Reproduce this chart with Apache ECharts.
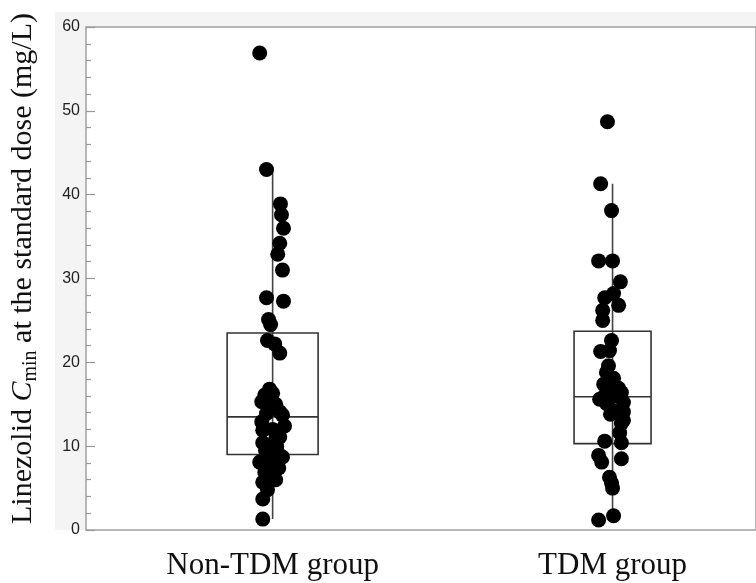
<!doctype html>
<html lang="en">
<head>
    <meta charset="UTF-8">
    <title>Linezolid Cmin</title>
    <style>
        html, body { margin: 0; padding: 0; background: #fff; }
    </style>
</head>
<body>
<div id="myChart" style="width: 756px;height: 583px"></div>
<script src="https://cdn.jsdelivr.net/npm/echarts@6/dist/echarts.min.js"></script>
<script>
    // groups on the x axis (1 and 2)
    var groupNames = ['Non-TDM group', 'TDM group'];
    var groupPos = [1, 2];

    // box stats: [low whisker, Q1, median, Q3, high whisker]
    var nonTdmBox = [1.3, 9.0, 13.5, 23.5, 43.0];
    var tdmBox = [1.8, 10.3, 15.9, 23.7, 41.3];

    // Cmin values, with their horizontal jitter (axis units)
    var nonTdmValues = [56.9, 43.0, 38.9, 37.6, 36.0, 34.2, 32.9, 31.0, 27.7, 27.3,
        25.1, 24.5, 22.6, 22.2, 21.1, 16.8, 16.3, 16.1, 15.3, 15.0,
        14.6, 14.1, 13.9, 13.7, 12.9, 12.4, 12.0, 11.9, 11.1, 10.8,
        10.4, 10.0, 9.5, 9.2, 8.7, 8.5, 8.1, 7.7, 7.4, 6.9,
        6.2, 6.0, 5.7, 4.8, 3.7, 1.3];
    var nonTdmJitter = [-0.038, -0.018, 0.023, 0.026, 0.032, 0.021, 0.015, 0.029, -0.018, 0.032,
        -0.012, -0.006, -0.015, 0.006, 0.021, -0.009, 0.000, -0.023, -0.032, 0.009,
        -0.009, 0.021, -0.018, 0.029, -0.032, 0.035, 0.000, -0.029, 0.021, 0.009,
        -0.029, 0.012, -0.021, 0.015, 0.029, -0.012, -0.038, 0.000, 0.018, -0.023,
        -0.006, 0.009, -0.029, -0.015, -0.029, -0.029];

    var tdmValues = [48.7, 41.3, 38.1, 32.1, 32.1, 29.6, 28.2, 27.7, 26.8, 26.2,
        25.0, 22.6, 21.3, 21.4, 19.6, 18.8, 18.1, 17.4, 17.0, 16.9,
        16.4, 16.0, 15.9, 15.6, 15.1, 15.2, 14.3, 14.1, 13.8, 13.1,
        12.7, 11.6, 10.6, 10.4, 8.9, 8.1, 8.5, 6.3, 5.6, 5.0,
        1.2, 1.7];
    var tdmJitter = [-0.015, -0.035, -0.003, -0.041, 0.000, 0.023, 0.003, -0.023, 0.018, -0.029,
        -0.029, -0.003, -0.035, -0.009, -0.012, -0.018, 0.003, -0.026, -0.012, 0.018,
        0.026, -0.023, 0.000, -0.038, -0.018, 0.032, -0.003, 0.032, -0.006, 0.032,
        0.026, 0.021, -0.023, 0.026, -0.041, -0.032, 0.026, -0.009, -0.003, 0.000,
        -0.041, 0.003];

    var yTicks = [0, 10, 20, 30, 40, 50, 60];

    var boxWidthPx = [91, 77];

    var myChart = echarts.init(document.getElementById('myChart'));

    function pts(pos, vals, jit) {
        return vals.map(function (v, i) {
            return [pos + jit[i], v];
        });
    }

    var boxData = [
        [groupPos[0]].concat(nonTdmBox),
        [groupPos[1]].concat(tdmBox)
    ];

    var option = {
        backgroundColor: '#fff',
        animation: false,
        graphic: [{
            type: 'rect',
            z: -10,
            shape: {x: 55, y: 12, width: 701, height: 518},
            style: {fill: '#f4f4f4'}
        }],
        grid: {
            left: 86,
            top: 27,
            right: -2,
            bottom: 53,
            show: true,
            backgroundColor: '#fff',
            borderColor: '#a0a0a0',
            borderWidth: 1.5
        },
        xAxis: {
            type: 'value',
            min: 0.451,
            max: 2.422,
            axisLine: {show: false},
            axisTick: {show: false},
            splitLine: {show: false},
            axisLabel: {
                customValues: groupPos,
                margin: 20,
                fontFamily: 'Liberation Serif',
                fontSize: 31,
                color: '#111',
                formatter: function (v) {
                    return groupNames[Math.round(v) - 1];
                }
            }
        },
        yAxis: {
            type: 'value',
            min: yTicks[0],
            max: yTicks[yTicks.length - 1],
            interval: 10,
            name: '{n|Linezolid }{i|C}{s|min}{n| at the standard dose (mg/L)}',
            nameLocation: 'middle',
            nameRotate: 90,
            nameGap: 45,
            nameTextStyle: {
                padding: [0, 0, 0, 20],
                rich: {
                    n: {fontFamily: 'Liberation Serif', fontSize: 30, color: '#111', lineHeight: 35},
                    i: {fontFamily: 'Liberation Serif', fontSize: 30, fontStyle: 'italic', color: '#111', lineHeight: 35},
                    s: {fontFamily: 'Liberation Serif', fontSize: 20, color: '#111', lineHeight: 35, verticalAlign: 'bottom'}
                }
            },
            axisLine: {show: false},
            axisTick: {show: true, inside: true, length: 9, lineStyle: {color: '#999', width: 1.2}},
            minorTick: {show: true, splitNumber: 5, length: 5, lineStyle: {color: '#999', width: 1.2}},
            splitLine: {show: false},
            axisLabel: {
                fontFamily: 'Liberation Sans',
                fontSize: 16,
                color: '#222',
                margin: 6
            }
        },
        series: [
            {
                type: 'custom',
                z: 2,
                data: boxData,
                renderItem: function (params, api) {
                    var x = api.value(0);
                    var lo = api.coord([x, api.value(1)]);
                    var q1 = api.coord([x, api.value(2)]);
                    var md = api.coord([x, api.value(3)]);
                    var q3 = api.coord([x, api.value(4)]);
                    var hi = api.coord([x, api.value(5)]);
                    var hw = boxWidthPx[params.dataIndex] / 2;
                    return {
                        type: 'group',
                        children: [
                            {type: 'line', shape: {x1: lo[0], y1: lo[1], x2: hi[0], y2: hi[1]},
                                style: {stroke: '#444', lineWidth: 1.6}},
                            {type: 'rect', shape: {x: md[0] - hw, y: q3[1], width: hw * 2, height: q1[1] - q3[1]},
                                style: {fill: 'none', stroke: '#333', lineWidth: 1.6}},
                            {type: 'line', shape: {x1: md[0] - hw, y1: md[1], x2: md[0] + hw, y2: md[1]},
                                style: {stroke: '#333', lineWidth: 1.6}}
                        ]
                    };
                }
            },
            {
                type: 'scatter',
                z: 5,
                symbolSize: 15,
                itemStyle: {color: '#000', opacity: 1},
                data: pts(groupPos[0], nonTdmValues, nonTdmJitter)
            },
            {
                type: 'scatter',
                z: 5,
                symbolSize: 15,
                itemStyle: {color: '#000', opacity: 1},
                data: pts(groupPos[1], tdmValues, tdmJitter)
            }
        ]
    };

    myChart.setOption(option);
</script>
</body>
</html>
